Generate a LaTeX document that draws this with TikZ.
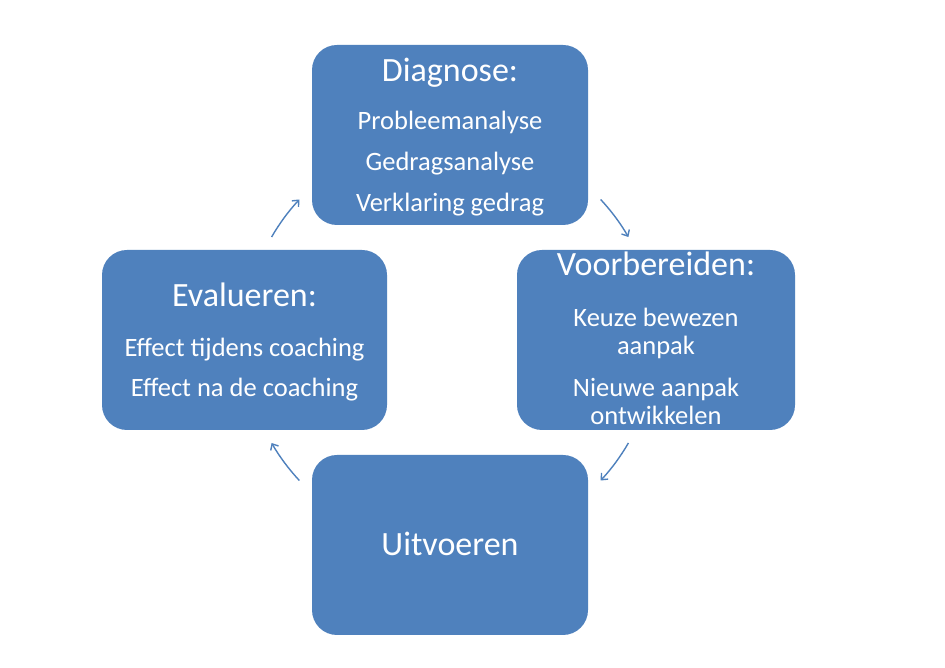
\documentclass[tikz,border=0pt]{standalone}
\usepackage{fontspec}
\setmainfont{Carlito}
\usetikzlibrary{arrows.meta, positioning}
\definecolor{stageblue}{RGB}{79,129,189}

% title line of a stage, with a fixed first-line height
\newcommand{\headline}[1]{{\fontsize{34}{34}\selectfont\rule{0pt}{30pt}#1\par}}

\begin{document}
\begin{tikzpicture}[
    x=1pt, y=1pt,
    stage/.style={fill=stageblue, rounded corners=25pt, minimum width=276pt, minimum height=180pt, inner sep=0pt},
    lines/.style={text=white, text width=270pt, align=flush center, inner sep=0pt,
      font={\fontsize{26.5}{28}\selectfont\lineskiplimit=-50pt\relax\parindent=0pt\relax\parskip=0pt\relax}},
    cyc/.style={stageblue, line width=1.4pt, -{Straight Barb[length=5pt, width=9pt]}}
  ]

    % Page
    \fill[white] (0,0) rectangle (945,668);

    % Stages
    \node[stage] (diag) at (450,533) {};
    \node[stage, minimum width=278pt] (prep) at (656,328) {};
    \node[stage] (exec) at (450,123) {};
    \node[stage, minimum width=285pt] (eval) at (244.5,328) {};

    % Texts
    \node[lines, below=7pt of diag.north] (diagtext) {\headline{Diagnose:}\vspace{20pt}
      Probleemanalyse\par\vspace{13pt}Gedragsanalyse\par\vspace{13pt}Verklaring gedrag};
    \node[lines, below=-4pt of prep.north] (preptext) {\headline{Voorbereiden:}\vspace{23pt}
      Keuze bewezen\\aanpak\par\vspace{14pt}Nieuwe aanpak\\ontwikkelen};
    \node[lines, below=71pt of exec.north] (exectext) {\headline{Uitvoeren}};
    \node[lines, below=27pt of eval.north] (evaltext) {\headline{Evalueren:}\vspace{22pt}
      Effect tijdens coaching\par\vspace{12pt}Effect na de coaching};

    % Cycle arrows
    \coordinate (hub) at (450,328);
    \foreach \a in {43,-30,223,150} {
      \draw[cyc] ([shift={(\a:206)}]hub) arc[start angle=\a, end angle=\a-13, radius=206];
    }

  \end{tikzpicture}
\end{document}
